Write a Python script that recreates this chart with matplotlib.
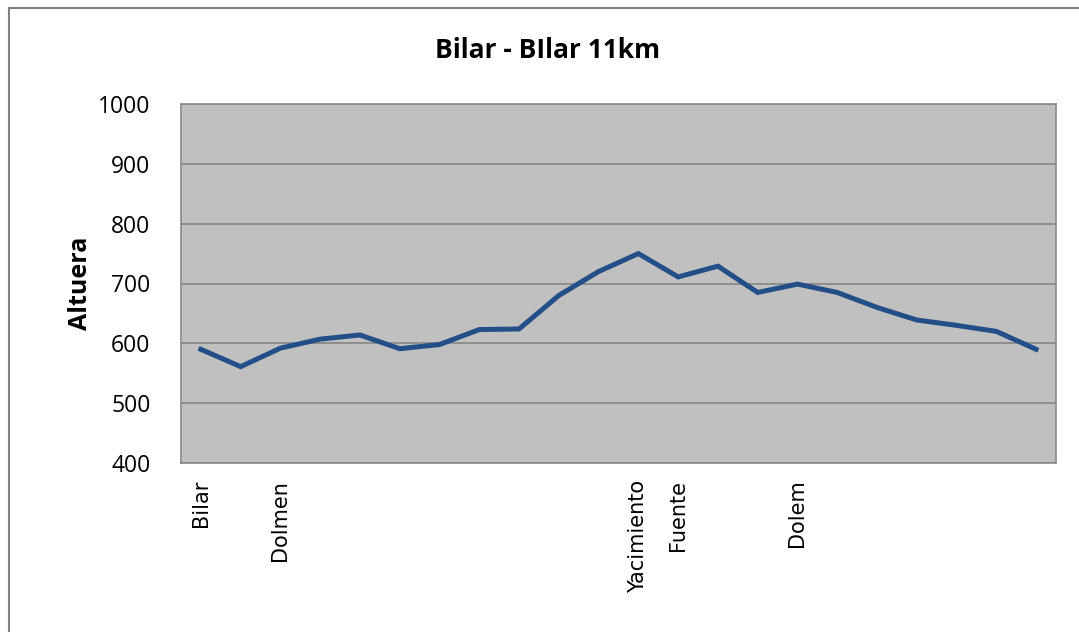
import matplotlib
matplotlib.use("Agg")
from matplotlib import pyplot as plt
from matplotlib.patches import Rectangle

# altitude profile
altura = [590, 561, 592, 607, 614, 591, 598, 623, 624, 680, 720,
          750, 711, 729, 685, 699, 685, 660, 639, 630, 620, 590]
etiquetas = ["Bilar", "", "Dolmen", "", "", "", "", "", "", "", "",
             "Yacimiento", "Fuente", "", "", "Dolem", "", "", "", "", "", ""]
y_ticks = [400, 500, 600, 700, 800, 900, 1000]


def make_chart():
    fig = plt.figure(figsize=(10.79, 6.32), dpi=100)
    W, H = 1079, 632
    ax = fig.add_axes([181 / W, 1 - 463 / H, (1056 - 181) / W, (463 - 104) / H])
    ax.set_facecolor("#c0c0c0")

    x = list(range(len(altura)))
    ax.plot(x, altura, color="#234f88", linewidth=3.6, solid_joinstyle="miter")

    ax.set_xlim(-0.5, len(altura) - 0.5)
    ax.set_ylim(400, 1000)
    ax.set_yticks(y_ticks)
    ax.set_yticklabels([str(v) for v in y_ticks], fontfamily="Open Sans", fontsize=16.5)
    ax.set_xticks(x)
    ax.set_xticklabels(etiquetas, rotation=90, fontfamily="DejaVu Sans", fontsize=15,
                       va="top")
    ax.tick_params(axis="x", length=0, pad=12)
    ax.tick_params(axis="y", length=0, pad=22)
    ax.grid(axis="y", color="#868686", linewidth=1.2)
    ax.set_axisbelow(True)
    for s in ax.spines.values():
        s.set_color("#8a8a8a")
        s.set_linewidth(1.2)

    ax.set_ylabel("Altuera", fontfamily="Open Sans", fontweight="bold", fontsize=18,
                  labelpad=4)
    fig.text(548 / W, 1 - 50 / H, "Bilar - BIlar 11km", ha="center", va="center",
             fontfamily="Open Sans", fontweight="bold", fontsize=19)

    # outer chart frame
    fig.patches.append(Rectangle((9 / W, 1 - 700 / H), 1100 / W, (700 - 8) / H,
                                 transform=fig.transFigure, fill=False,
                                 edgecolor="#808080", linewidth=1.5))
    fig.savefig("out.png", dpi=100)


if __name__ == "__main__":
    make_chart()
